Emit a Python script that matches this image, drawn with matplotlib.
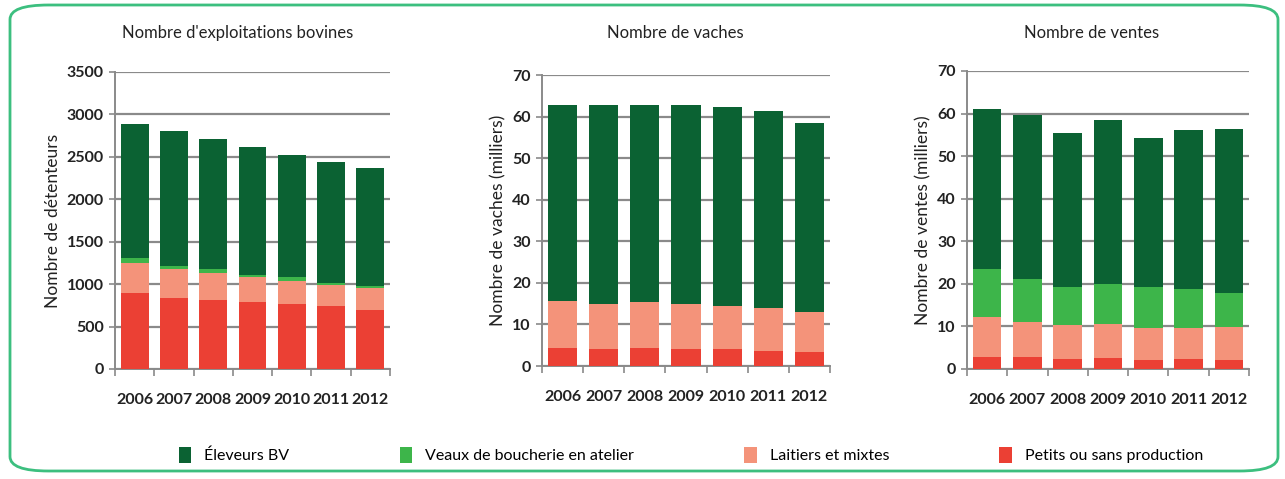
import numpy as np
import matplotlib.pyplot as plt
from matplotlib.patches import Patch, FancyBboxPatch

years = ['2006', '2007', '2008', '2009', '2010', '2011', '2012']
series_names = ['Éleveurs BV', 'Veaux de boucherie en atelier',
                'Laitiers et mixtes', 'Petits ou sans production']
colors = ['#0b6233', '#3db54a', '#f4937a', '#eb4034']

# Nombre d'exploitations bovines (détenteurs)
expl_petits = [898, 839, 812, 785, 765, 742, 695]
expl_laitiers = [346, 335, 315, 305, 271, 247, 255]
expl_veaux = [66, 42, 47, 15, 51, 27, 27]
expl_eleveurs = [1583, 1594, 1538, 1512, 1440, 1425, 1393]

# Nombre de vaches (milliers)
vaches_petits = [4.3, 4.0, 4.3, 4.0, 4.0, 3.6, 3.4]
vaches_laitiers = [11.3, 10.8, 11.0, 10.8, 10.4, 10.3, 9.5]
vaches_veaux = [0, 0, 0, 0, 0, 0, 0]
vaches_eleveurs = [47.1, 47.9, 47.4, 47.9, 48.0, 47.4, 45.5]

# Nombre de ventes (milliers)
ventes_petits = [2.9, 2.9, 2.3, 2.6, 2.0, 2.3, 2.0]
ventes_laitiers = [9.4, 8.2, 8.0, 8.0, 7.7, 7.4, 7.9]
ventes_veaux = [11.1, 10.0, 8.9, 9.4, 9.5, 9.2, 8.0]
ventes_eleveurs = [37.7, 38.6, 36.2, 38.4, 35.1, 37.2, 38.4]

plt.rcParams['font.family'] = ['Lato', 'DejaVu Sans']

fig = plt.figure(figsize=(12.85, 4.79), dpi=100)
W, H = 1285, 479

# cadre vert arrondi
fig.patches.append(FancyBboxPatch((10 / W, 8 / H), 1268 / W, 466 / H,
                                  boxstyle='round,pad=0,rounding_size=0.03',
                                  transform=fig.transFigure, fill=False,
                                  edgecolor='#3cbf7f', lw=2))


def px_axes(x0, x1, y0, y1):
    return fig.add_axes([x0 / W, 1 - y1 / H, (x1 - x0) / W, (y1 - y0) / H])


def stacked(ax, layers, ymax, step, title, ylabel, title_x):
    x = np.arange(len(years))
    bottom = np.zeros(len(years))
    for vals, c in zip(layers, colors[::-1]):
        ax.bar(x, vals, 0.71, bottom=bottom, color=c, zorder=3)
        bottom += np.array(vals)
    ax.set_ylim(0, ymax)
    ax.set_xlim(-0.5, len(years) - 0.5)
    ax.set_yticks(np.arange(0, ymax + 1, step))
    ax.yaxis.grid(True, color='#8a8a8a', lw=1.6, zorder=0)
    ax.set_xticks(x)
    ax.set_xticklabels(years)
    ax.set_xticks(np.arange(-0.5, len(years)), minor=True)
    ax.tick_params(axis='x', which='major', length=0, pad=17, labelsize=11.5)
    ax.tick_params(axis='x', which='minor', length=5, color='#8a8a8a', width=1.2)
    ax.tick_params(axis='y', length=4, color='#8a8a8a', width=1.2, labelsize=11.5, pad=4)
    for lbl in ax.get_xticklabels() + ax.get_yticklabels():
        lbl.set_fontweight('bold')
        lbl.set_color('#222222')
    for s in ['top', 'right']:
        ax.spines[s].set_visible(False)
    for s in ['left', 'bottom']:
        ax.spines[s].set_color('#8a8a8a')
        ax.spines[s].set_linewidth(1.4)
    ax.set_ylabel(ylabel, fontsize=12.5, color='#222222')
    fig.text(title_x / W, 1 - 33 / H, title, ha='center', va='center',
             fontsize=12, color='#222222')


ax1 = px_axes(115, 390, 72, 369)
stacked(ax1, [expl_petits, expl_laitiers, expl_veaux, expl_eleveurs], 3500, 500,
        "Nombre d'exploitations bovines", 'Nombre de détenteurs', 238)

ax2 = px_axes(542, 830, 75, 366)
stacked(ax2, [vaches_petits, vaches_laitiers, vaches_veaux, vaches_eleveurs], 70, 10,
        'Nombre de vaches', 'Nombre de vaches (milliers)', 675)

ax3 = px_axes(967, 1249, 71, 369)
stacked(ax3, [ventes_petits, ventes_laitiers, ventes_veaux, ventes_eleveurs], 70, 10,
        'Nombre de ventes', 'Nombre de ventes (milliers)', 1092)

handles = [Patch(facecolor=c, edgecolor='none') for c in colors]
fig.legend(handles, series_names, loc='center', ncol=4, frameon=False,
           bbox_to_anchor=(691 / W, 1 - 455 / H), fontsize=11.5,
           columnspacing=6.9, handlelength=0.8, handleheight=1.2, handletextpad=0.8)

fig.savefig('out.png', dpi=100)
